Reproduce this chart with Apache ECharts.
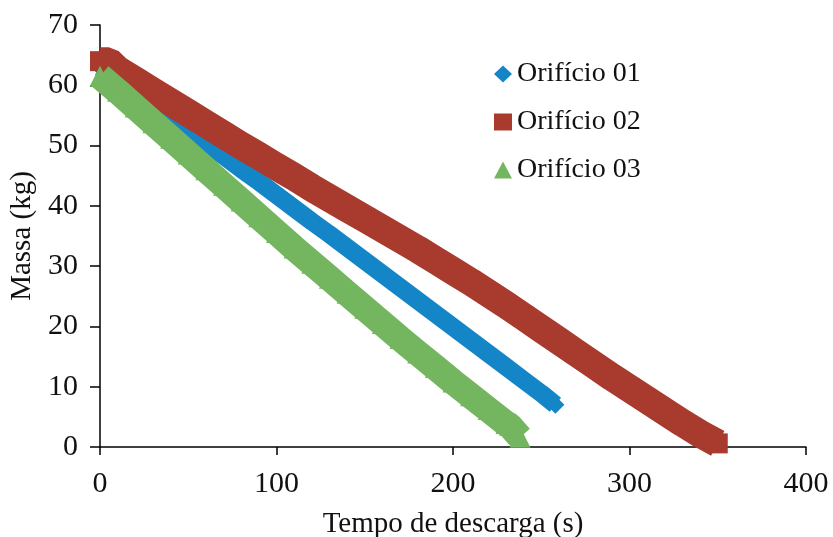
<!DOCTYPE html>
<html>
<head>
<meta charset="utf-8">
<script src="https://cdn.jsdelivr.net/npm/echarts@6/dist/echarts.min.js"></script>
<style>
  html, body { margin: 0; padding: 0; background: #fff; }
  #main { width: 833px; height: 537px; }
</style>
</head>
<body>
<div id="main"></div>
<script>
// Orifício 01
var tempo01 = [0, 10, 20, 30, 40, 50, 60, 70, 80, 90, 100, 110, 120, 130, 140, 150, 160, 170, 180, 190, 200, 210, 220, 230, 240, 250, 258];
var massa01 = [63, 61, 58.8, 56.6, 54.6, 52.5, 50.4, 48.3, 46.1, 44, 41.8, 39.6, 37.4, 35.3, 33.1, 30.9, 28.7, 26.5, 24.3, 22.1, 19.9, 17.7, 15.5, 13.3, 11.1, 8.9, 7];
// Orifício 02
var tempo02 = [0, 5, 10, 20, 30, 40, 50, 60, 70, 80, 90, 100, 110, 120, 130, 140, 150, 160, 170, 180, 190, 200, 210, 220, 230, 240, 250, 260, 270, 280, 290, 300, 310, 320, 330, 340, 350];
var massa02 = [64, 64, 62.6, 60.8, 59, 57.2, 55.4, 53.6, 51.8, 50, 48.3, 46.5, 44.8, 43, 41.3, 39.6, 37.9, 36.2, 34.5, 32.8, 31, 29.2, 27.4, 25.5, 23.6, 21.6, 19.6, 17.6, 15.6, 13.6, 11.6, 9.7, 7.8, 5.9, 4, 2.2, 0.6];
// Orifício 03
var tempo03 = [0, 10, 20, 30, 40, 50, 60, 70, 80, 90, 100, 110, 120, 130, 140, 150, 160, 170, 180, 190, 200, 210, 220, 230, 232, 238];
var massa03 = [61.5, 59, 56.4, 53.8, 51.2, 48.6, 46, 43.4, 40.8, 38.2, 35.6, 33, 30.5, 28, 25.5, 23, 20.5, 18, 15.6, 13.2, 10.8, 8.5, 6.2, 3.9, 3.6, 1.6];

function pares(t, m) {
    var out = [];
    for (var i = 0; i < t.length; i++) out.push([t[i], m[i]]);
    return out;
}

var fonte = '"Liberation Serif", "Times New Roman", serif';
var myChart = echarts.init(document.getElementById('main'));
var option = {
    backgroundColor: '#ffffff',
    animation: false,
    grid: { left: 100, right: 27, top: 25, bottom: 90, outerBoundsMode: 'none' },
    legend: {
        orient: 'vertical',
        left: 489,
        top: 55,
        itemGap: 20,
        itemWidth: 18,
        itemHeight: 17,
        textStyle: { fontFamily: fonte, fontSize: 28, color: '#111' },
        data: [
            { name: 'Orifício 01', icon: 'diamond' },
            { name: 'Orifício 02', icon: 'rect' },
            { name: 'Orifício 03', icon: 'triangle' }
        ]
    },
    xAxis: {
        type: 'value',
        min: 0, max: 400, interval: 100,
        name: 'Tempo de descarga (s)',
        nameLocation: 'middle',
        nameGap: 63,
        nameTextStyle: { fontFamily: fonte, fontSize: 29, color: '#111' },
        axisLine: { show: true, onZero: false, lineStyle: { color: '#000', width: 1.5 } },
        axisTick: { show: true, length: 8, lineStyle: { color: '#000', width: 1.5 } },
        axisLabel: { margin: 22, fontFamily: fonte, fontSize: 30, color: '#111' },
        splitLine: { show: false }
    },
    yAxis: {
        type: 'value',
        min: 0, max: 70, interval: 10,
        name: 'Massa (kg)',
        nameLocation: 'middle',
        nameGap: 63,
        nameTextStyle: { fontFamily: fonte, fontSize: 29, color: '#111' },
        axisLine: { show: true, lineStyle: { color: '#000', width: 1.5 } },
        axisTick: { show: true, length: 10, lineStyle: { color: '#000', width: 1.5 } },
        axisLabel: { margin: 22, fontFamily: fonte, fontSize: 30, color: '#111' },
        splitLine: { show: false }
    },
    series: [{
        name: 'Orifício 01',
        type: 'line',
        data: pares(tempo01, massa01),
        symbol: 'diamond',
        symbolSize: 18,
        showAllSymbol: true,
        itemStyle: { color: '#1486c8' },
        lineStyle: { color: '#1486c8', width: 18 },
        z: 2
    }, {
        name: 'Orifício 02',
        type: 'line',
        data: pares(tempo02, massa02),
        symbol: 'rect',
        symbolSize: 20,
        showAllSymbol: true,
        itemStyle: { color: '#a83b2e' },
        lineStyle: { color: '#a83b2e', width: 28 },
        z: 3
    }, {
        name: 'Orifício 03',
        type: 'line',
        data: pares(tempo03, massa03),
        symbol: 'triangle',
        symbolSize: 21,
        showAllSymbol: true,
        itemStyle: { color: '#74b65f' },
        lineStyle: { color: '#74b65f', width: 26 },
        z: 4
    }]
};
myChart.setOption(option);
</script>
</body>
</html>
